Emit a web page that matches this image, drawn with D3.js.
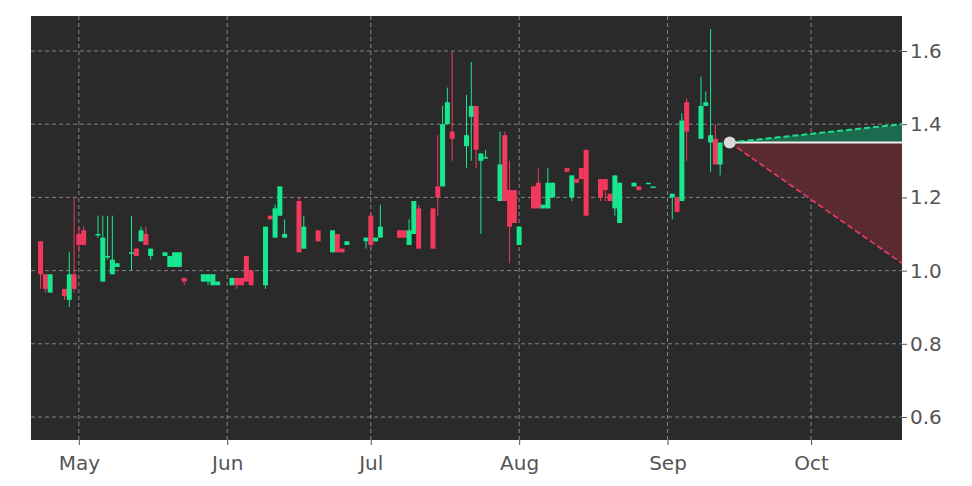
<!DOCTYPE html><html><head><meta charset="utf-8">
<script src="https://cdn.jsdelivr.net/npm/d3@7"></script>
<style>body{margin:0;background:#fff}</style></head><body><svg id="c" width="972" height="486"></svg>
<script>
const dates=["2025-04-23","2025-04-24","2025-04-25","2025-04-28","2025-04-29","2025-04-30","2025-05-01","2025-05-02","2025-05-05","2025-05-06","2025-05-07","2025-05-08","2025-05-09","2025-05-12","2025-05-13","2025-05-14","2025-05-15","2025-05-16","2025-05-19","2025-05-20","2025-05-21","2025-05-22","2025-05-23","2025-05-27","2025-05-28","2025-05-29","2025-05-30","2025-06-02","2025-06-03","2025-06-04","2025-06-05","2025-06-06","2025-06-09","2025-06-10","2025-06-11","2025-06-12","2025-06-13","2025-06-16","2025-06-17","2025-06-20","2025-06-23","2025-06-24","2025-06-25","2025-06-26","2025-06-30","2025-07-01","2025-07-02","2025-07-03","2025-07-07","2025-07-08","2025-07-09","2025-07-10","2025-07-11","2025-07-14","2025-07-15","2025-07-16","2025-07-17","2025-07-18","2025-07-21","2025-07-22","2025-07-23","2025-07-24","2025-07-25","2025-07-28","2025-07-29","2025-07-30","2025-07-31","2025-08-01","2025-08-04","2025-08-05","2025-08-06","2025-08-07","2025-08-08","2025-08-11","2025-08-12","2025-08-13","2025-08-14","2025-08-15","2025-08-18","2025-08-19","2025-08-20","2025-08-21","2025-08-22","2025-08-25","2025-08-26","2025-08-28","2025-08-29","2025-09-02","2025-09-03","2025-09-04","2025-09-05","2025-09-08","2025-09-09","2025-09-10","2025-09-11","2025-09-12"];
const opens=[1.08,0.99,0.94,0.95,0.92,0.99,1.10,1.11,1.10,0.97,1.04,0.99,1.01,1.05,1.06,1.08,1.10,1.04,1.04,1.01,1.01,1.01,0.98,0.97,0.97,0.96,0.96,0.96,0.98,0.98,1.04,1.00,0.96,1.15,1.09,1.15,1.09,1.19,1.06,1.11,1.05,1.10,1.06,1.07,1.08,1.15,1.08,1.09,1.11,1.11,1.07,1.10,1.17,1.17,1.23,1.23,1.40,1.38,1.34,1.42,1.45,1.30,1.31,1.19,1.37,1.22,1.22,1.07,1.23,1.24,1.17,1.17,1.20,1.28,1.20,1.25,1.28,1.33,1.25,1.25,1.21,1.17,1.13,1.23,1.23,1.24,1.23,1.20,1.20,1.19,1.46,1.36,1.45,1.35,1.36,1.29];
const closes=[0.99,0.95,0.99,0.93,0.99,0.95,1.07,1.07,1.10,1.09,1.04,1.03,1.02,1.05,1.04,1.11,1.07,1.06,1.05,1.04,1.05,1.05,0.97,0.99,0.99,0.99,0.97,0.98,0.96,0.96,0.97,0.96,1.12,1.14,1.17,1.23,1.10,1.05,1.12,1.08,1.11,1.05,1.05,1.08,1.09,1.07,1.09,1.12,1.09,1.09,1.11,1.19,1.06,1.06,1.20,1.40,1.46,1.36,1.37,1.45,1.33,1.32,1.31,1.29,1.19,1.12,1.13,1.12,1.17,1.17,1.18,1.24,1.24,1.27,1.26,1.24,1.25,1.15,1.20,1.22,1.19,1.26,1.24,1.24,1.22,1.24,1.23,1.21,1.16,1.41,1.38,1.45,1.46,1.37,1.29,1.35];
const highs=[1.08,0.99,0.99,0.95,1.05,1.20,1.12,1.12,1.15,1.15,1.15,1.15,1.02,1.15,1.06,1.12,1.12,1.06,1.05,1.04,1.05,1.05,0.98,0.99,0.99,0.99,0.97,0.98,0.98,0.98,1.04,1.00,1.12,1.15,1.18,1.23,1.14,1.20,1.15,1.11,1.11,1.10,1.06,1.08,1.09,1.16,1.09,1.18,1.11,1.11,1.14,1.19,1.18,1.17,1.37,1.45,1.50,1.60,1.48,1.57,1.45,1.32,1.33,1.38,1.38,1.30,1.22,1.12,1.23,1.28,1.18,1.28,1.24,1.28,1.26,1.25,1.28,1.33,1.25,1.25,1.21,1.26,1.24,1.24,1.23,1.24,1.23,1.21,1.20,1.43,1.47,1.53,1.49,1.66,1.40,1.35];
const lows=[0.95,0.94,0.94,0.92,0.90,0.94,1.05,1.07,1.09,0.97,1.03,0.99,1.01,1.00,1.04,1.08,1.07,1.03,1.04,1.01,1.01,1.01,0.96,0.97,0.96,0.96,0.96,0.96,0.95,0.96,0.97,0.96,0.95,1.14,1.09,1.15,1.09,1.05,1.06,1.08,1.05,1.05,1.05,1.07,1.06,1.06,1.08,1.09,1.09,1.09,1.07,1.10,1.06,1.06,1.15,1.23,1.40,1.30,1.28,1.30,1.28,1.10,1.31,1.19,1.19,1.02,1.13,1.07,1.17,1.17,1.17,1.17,1.20,1.27,1.19,1.24,1.25,1.15,1.19,1.19,1.19,1.15,1.13,1.23,1.22,1.24,1.23,1.14,1.16,1.19,1.30,1.36,1.45,1.27,1.29,1.26];
const fcDates=["2025-09-14","2025-10-20"];
const fcMid=[1.35,1.35], fcUpper=[1.35,1.40], fcLower=[1.35,1.02];
const yTicks=[0.6,0.8,1.0,1.2,1.4,1.6];
const xTicks=["2025-05-01","2025-06-01","2025-07-01","2025-08-01","2025-09-01","2025-10-01"];
const xLabels=["May","Jun","Jul","Aug","Sep","Oct"];

const P=d3.timeParse("%Y-%m-%d");
const svg=d3.select("#c");
const L=31,R=902,T=16,B=440;
const x=d3.scaleTime().domain([P("2025-04-21"),P("2025-10-20")]).range([L,R]);
const y=d3.scaleLinear().domain([0.6,1.6]).range([417,51]);
svg.append("rect").attr("x",L).attr("y",T).attr("width",R-L).attr("height",B-T).attr("fill","#2a2a2a");
const g=svg.append("g");
yTicks.forEach(v=>g.append("line").attr("x1",L).attr("x2",R).attr("y1",y(v)).attr("y2",y(v)).attr("stroke","#9a9a9a").attr("stroke-dasharray","4,3").attr("stroke-width",0.8));
xTicks.forEach(d=>g.append("line").attr("x1",x(P(d))).attr("x2",x(P(d))).attr("y1",T).attr("y2",B).attr("stroke","#9a9a9a").attr("stroke-dasharray","4,3").attr("stroke-width",0.8));
// forecast
const fd=fcDates.map(P);
const area=d3.area().x((d,i)=>x(fd[i])).y0((d,i)=>y(fcMid[i])).y1(d=>y(d));
svg.append("path").attr("d",area(fcUpper)).attr("fill","#1c6b4e");
svg.append("path").attr("d",area(fcLower)).attr("fill","#5a2c31");
const ln=d3.line().x((d,i)=>x(fd[i])).y(d=>y(d));
svg.append("path").attr("d",ln(fcMid)).attr("stroke","#eeeeee").attr("stroke-width",2).attr("fill","none");
svg.append("path").attr("d",ln(fcUpper)).attr("stroke","#19e08f").attr("stroke-width",2).attr("stroke-dasharray","6,3").attr("fill","none");
svg.append("path").attr("d",ln(fcLower)).attr("stroke","#f0386a").attr("stroke-width",1.6).attr("stroke-dasharray","6,3").attr("fill","none");
// candles
const up="#17e890",dn="#f2385c";
dates.forEach((d,i)=>{
  const cx=x(P(d)),c=closes[i]>=opens[i]?up:dn;
  svg.append("line").attr("x1",cx).attr("x2",cx).attr("y1",y(highs[i])).attr("y2",y(lows[i])).attr("stroke",c).attr("stroke-width",1);
  const t=y(Math.max(opens[i],closes[i])),b=y(Math.min(opens[i],closes[i]));
  svg.append("rect").attr("x",cx-2.5).attr("width",5).attr("y",t).attr("height",Math.max(1.5,b-t)).attr("fill",c);
});
svg.append("circle").attr("cx",x(fd[0])).attr("cy",y(fcMid[0])).attr("r",6).attr("fill","#d9d9d9");
// axes
const ya=d3.axisRight(y).tickValues(yTicks).tickFormat(d3.format(".1f")).tickSize(5);
svg.append("g").attr("transform",`translate(${R},0)`).call(ya).call(s=>{s.select(".domain").remove();s.selectAll("line").attr("stroke","#555");s.selectAll("text").attr("fill","#555").attr("font-size",20).attr("font-family","DejaVu Sans").attr("x",8);});
const xa=d3.axisBottom(x).tickValues(xTicks.map(P)).tickFormat((d,i)=>xLabels[i]).tickSize(5);
svg.append("g").attr("transform",`translate(0,${B})`).call(xa).call(s=>{s.select(".domain").remove();s.selectAll("line").attr("stroke","#555");s.selectAll("text").attr("fill","#555").attr("font-size",20).attr("font-family","DejaVu Sans").attr("dy","1.1em");});
</script></body></html>
